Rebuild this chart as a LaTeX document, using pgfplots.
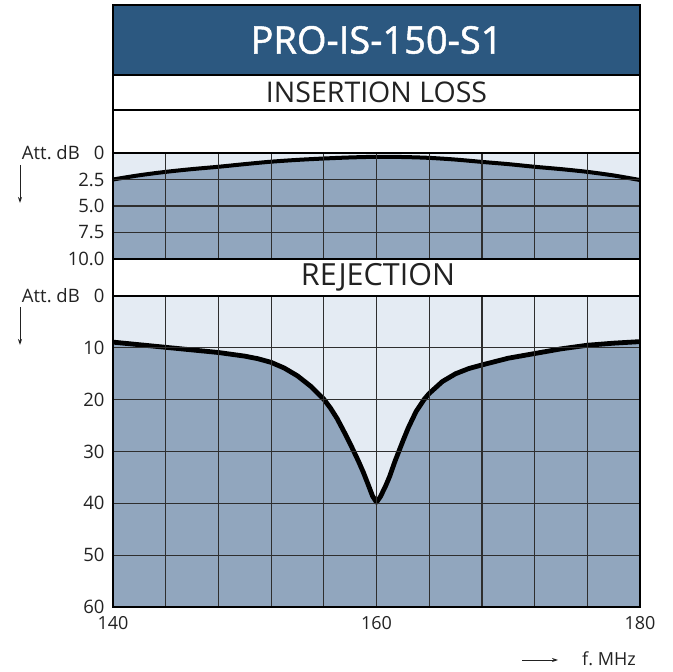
\documentclass[border=0pt]{standalone}
\usepackage{pgfplots}
\pgfplotsset{compat=1.18}
\usepackage{fontspec}
\setmainfont{Open Sans}
\newfontfamily\titlefont{Open Sans}[FakeBold=1.3]
\usetikzlibrary{arrows.meta}
\definecolor{titleblue}{HTML}{2C5880}
\definecolor{darkc}{HTML}{91A6BE}
\definecolor{lightc}{HTML}{E4EBF3}
\definecolor{gridc}{HTML}{2E2E2E}
\definecolor{txtc}{HTML}{222222}

\pgfplotsset{
  panel/.style={
    scale only axis, anchor=south west, width=527pt,
    xmin=140, xmax=180, y dir=reverse,
    xtick={140,144,148,152,156,160,164,168,172,176,180},
    grid=major,
    major grid style={line width=1.2pt, color=gridc},
    axis line style={line width=1.8pt, color=black},
    tick style={draw=none},
    axis background/.style={fill=darkc},
    axis on top,
    /pgf/number format/assume math mode=true,
    yticklabel style={font=\fontsize{18.5}{18.5}\selectfont, text=txtc, xshift=-5pt},
  }
}

\begin{document}
\begin{tikzpicture}
\useasboundingbox (0pt,0pt) rectangle (672pt,672pt);

% header boxes
\fill[titleblue] (113pt,597pt) rectangle (640pt,667pt);
\node[text=white, font=\titlefont\fontsize{38}{38}\selectfont] at (376.5pt,632pt) {PRO-IS-150-S1};
\node[text=txtc, font=\fontsize{28.5}{28.5}\selectfont] at (376.5pt,580pt) {INSERTION LOSS};
\node[text=txtc, font=\fontsize{30.5}{30.5}\selectfont] at (378pt,395pt) {REJECTION};

% insertion loss panel
\begin{axis}[panel, at={(113pt,413pt)}, height=106pt,
  ymin=0, ymax=10,
  ytick={0,2.5,5,7.5,10}, yticklabels={0,2.5,5.0,7.5,10.0},
  xticklabels={,,,,,,,,,,}]
\addplot[fill=lightc, draw=none] coordinates {
(140,2.5) (142,2.1) (144,1.78) (146,1.52) (148,1.3) (150,1.05) (152,0.82) (154,0.65)
(156,0.52) (158,0.42) (160,0.36) (162,0.38) (164,0.46) (166,0.62) (168,0.84) (170,1.05)
(172,1.3) (174,1.52) (176,1.78) (178,2.12) (180,2.55)} \closedcycle;
\addplot[black, line width=4pt, smooth, line join=round] coordinates {
(140,2.5) (142,2.1) (144,1.78) (146,1.52) (148,1.3) (150,1.05) (152,0.82) (154,0.65)
(156,0.52) (158,0.42) (160,0.36) (162,0.38) (164,0.46) (166,0.62) (168,0.84) (170,1.05)
(172,1.3) (174,1.52) (176,1.78) (178,2.12) (180,2.55)};
\end{axis}

% rejection panel
\begin{axis}[panel, at={(113pt,65pt)}, height=311pt,
  ymin=0, ymax=60,
  ytick={0,10,20,30,40,50,60},
  xticklabels={140,,,,,160,,,,,180},
  xticklabel style={font=\fontsize{18}{18}\selectfont, text=txtc, yshift=-6pt}]
\addplot[fill=lightc, draw=none] coordinates {
(140,8.9) (142,9.4) (144,9.9) (146,10.4) (148,10.9) (150,11.6) (151,12.1) (152,12.8)
(153,13.9) (154,15.4) (155,17.4) (156,19.9) (156.5,21.6) (157,23.6) (157.5,26.0) (158,28.5)
(158.6,31.7) (159,34.0) (159.4,36.6) (159.7,38.6) (160,39.8) (160.3,38.7) (160.7,36.6)
(161,34.8) (161.4,31.9) (162,28.0) (162.4,25.5) (163,22.3) (163.6,20.0) (164,18.8)
(165,16.5) (166,15.0) (167,14.0) (168,13.3) (170,12.0) (172,11.1) (174,10.2) (176,9.5)
(178,9.1) (180,8.8)} \closedcycle;
\addplot[black, line width=4.8pt, line join=round] coordinates {
(140,8.9) (142,9.4) (144,9.9) (146,10.4) (148,10.9) (150,11.6) (151,12.1) (152,12.8)
(153,13.9) (154,15.4) (155,17.4) (156,19.9) (156.5,21.6) (157,23.6) (157.5,26.0) (158,28.5)
(158.6,31.7) (159,34.0) (159.4,36.6) (159.7,38.6) (160,39.8) (160.3,38.7) (160.7,36.6)
(161,34.8) (161.4,31.9) (162,28.0) (162.4,25.5) (163,22.3) (163.6,20.0) (164,18.8)
(165,16.5) (166,15.0) (167,14.0) (168,13.3) (170,12.0) (172,11.1) (174,10.2) (176,9.5)
(178,9.1) (180,8.8)};
\end{axis}

% frame lines
\draw[line width=1.8pt] (113pt,65pt) -- (113pt,667pt) -- (640pt,667pt) -- (640pt,65pt);
\draw[line width=1.6pt] (113pt,597pt) -- (640pt,597pt);
\draw[line width=1.6pt] (113pt,562pt) -- (640pt,562pt);

% left labels
\node[anchor=base east, text=txtc, font=\fontsize{18.5}{18.5}\selectfont, inner sep=0pt] at (80pt,512.3pt) {Att.\ dB};
\node[anchor=base east, text=txtc, font=\fontsize{18.5}{18.5}\selectfont, inner sep=0pt] at (80pt,369.3pt) {Att.\ dB};
\draw[-{Stealth[length=6pt,width=4pt]}, line width=0.9pt, color=txtc] (20pt,507pt) -- (20pt,469pt);
\draw[-{Stealth[length=6pt,width=4pt]}, line width=0.9pt, color=txtc] (20pt,365pt) -- (20pt,327pt);

% frequency label
\draw[-{Stealth[length=6pt,width=4pt]}, line width=0.9pt, color=txtc] (522pt,12pt) -- (558pt,12pt);
\node[anchor=base west, text=txtc, font=\fontsize{18}{18}\selectfont, inner sep=0pt] at (582pt,6.5pt) {f.\ MHz};
\end{tikzpicture}
\end{document}
